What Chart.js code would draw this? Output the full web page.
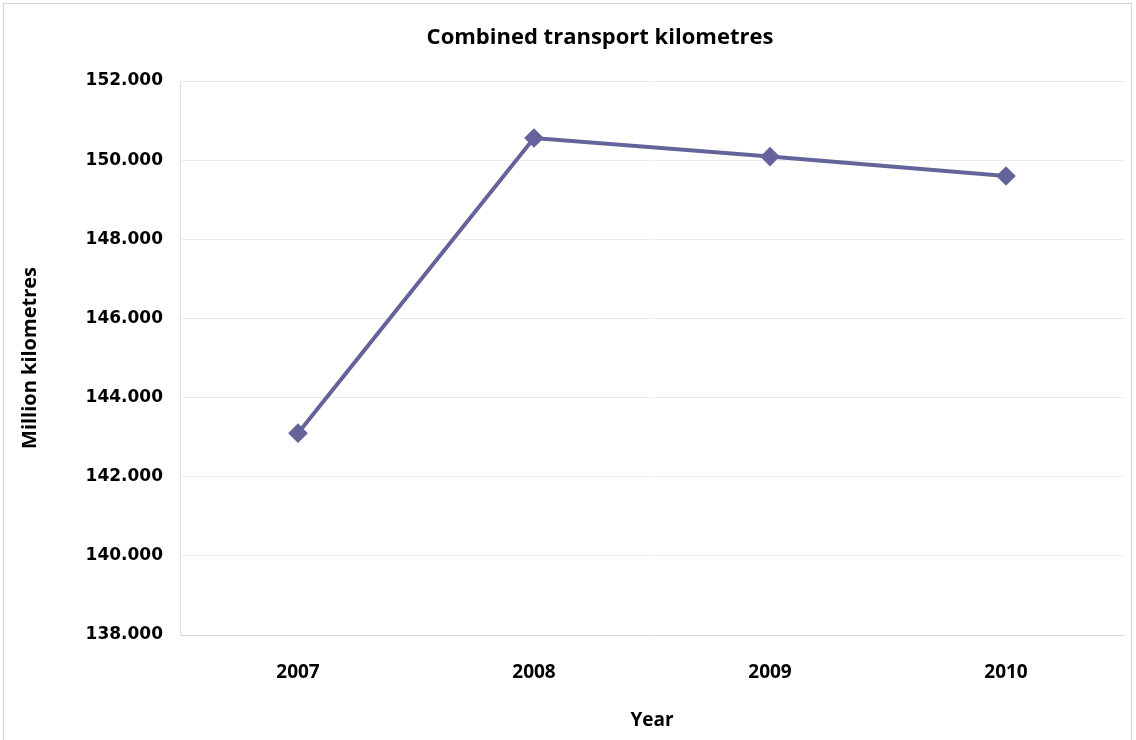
<!DOCTYPE html>
<html>
<head>
<meta charset="utf-8">
<script src="https://cdn.jsdelivr.net/npm/chart.js@4"></script>
<style>
  html, body { margin: 0; padding: 0; background: #fff; }
  #wrap { position: relative; width: 1136px; height: 740px; }
  #frame { position: absolute; left: 3px; top: 3px; width: 1127px; height: 745px; border: 1px solid #d4d4d4; pointer-events: none; }
</style>
</head>
<body>
<div id="wrap">
  <canvas id="chart" width="1136" height="740"></canvas>
  <div id="frame"></div>
</div>
<script>
// 数据
const years = ['2007', '2008', '2009', '2010'];
const kilometres = [143.1, 150.56, 150.09, 149.6];
const yMin = 138;
const yMax = 152;
const yStep = 2;

const lineColor = '#64649b';

// 标题在原图中略偏右，居中于 x≈600
const shiftTitle = {
    id: 'shiftTitle',
    afterLayout(chart) {
        const t = chart.titleBlock;
        if (t) {
            t.left = 76;
            t.right = 1124;
        }
    }
};

new Chart(document.getElementById('chart'), {
    type: 'line',
    plugins: [shiftTitle],
    data: {
        labels: years,
        datasets: [{
            label: 'Combined transport kilometres',
            data: kilometres,
            borderColor: lineColor,
            backgroundColor: lineColor,
            borderWidth: 4,
            pointStyle: 'rectRot',
            pointRadius: 7,
            pointHoverRadius: 7,
            tension: 0
        }]
    },
    options: {
        responsive: false,
        animation: false,
        layout: { padding: { left: 10, right: 12, top: 0, bottom: 0 } },
        plugins: {
            legend: { display: false },
            tooltip: { enabled: false },
            title: {
                display: true,
                text: 'Combined transport kilometres',
                color: '#000',
                font: { family: 'Open Sans', size: 22, weight: 'bold' },
                padding: { top: 25, bottom: 29.6 }
            }
        },
        scales: {
            x: {
                offset: true,
                grid: { display: false, drawTicks: false },
                border: { display: true, color: '#d9d9d9', width: 1 },
                ticks: {
                    color: '#000',
                    padding: 26,
                    font: { family: 'Open Sans', size: 19, weight: 'bold' }
                },
                title: {
                    display: true,
                    text: 'Year',
                    color: '#000',
                    font: { family: 'Open Sans', size: 19, weight: 'bold' },
                    padding: { top: 20, bottom: 8 }
                },
                afterFit: scale => { scale.height = 105; }
            },
            y: {
                min: yMin,
                max: yMax,
                grid: { color: '#ececec', lineWidth: 1, drawTicks: false },
                border: { display: true, color: '#e0e0e0', width: 1 },
                ticks: {
                    stepSize: yStep,
                    color: '#000',
                    padding: 17,
                    font: { family: 'DejaVu Sans', size: 17, weight: 'bold' },
                    callback: value => value.toFixed(3)
                },
                title: {
                    display: true,
                    text: 'Million kilometres',
                    color: '#000',
                    font: { family: 'Open Sans', size: 20, weight: 'bold' },
                    padding: { top: 8, bottom: 0 }
                },
                afterFit: scale => { scale.width = 170; }
            }
        }
    }
});
</script>
</body>
</html>
